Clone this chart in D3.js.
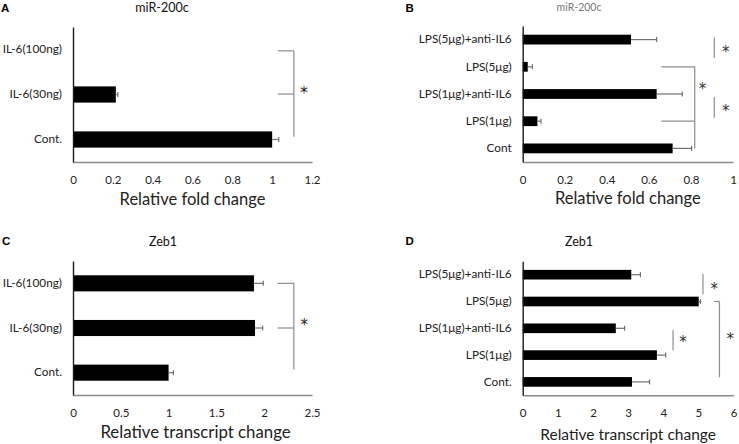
<!DOCTYPE html>
<html>
<head>
<meta charset="utf-8">
<script src="https://cdn.jsdelivr.net/npm/d3@7"></script>
<style>
  html, body { margin: 0; padding: 0; background: #fff; }
  svg { display: block; font-family: Lato, "Open Sans", sans-serif; }
</style>
</head>
<body>
<svg id="chart" width="739" height="444"></svg>
<script>
// ---------- DATA ----------
// Panel A: miR-200c, IL-6 treatment (top to bottom)
const catsA = ["IL-6(100ng)", "IL-6(30ng)", "Cont."];
const valsA = [0, 0.215, 1.0];
const errA  = [0, 0.01, 0.033];
const ticksA = [0, 0.2, 0.4, 0.6, 0.8, 1, 1.2];

// Panel B: miR-200c, LPS treatment
const catsB = ["LPS(5μg)+anti-IL6", "LPS(5μg)", "LPS(1μg)+anti-IL6", "LPS(1μg)", "Cont"];
const valsB = [0.515, 0.024, 0.637, 0.07, 0.713];
const errB  = [0.122, 0.022, 0.122, 0.017, 0.09];
const ticksB = [0, 0.2, 0.4, 0.6, 0.8, 1];

// Panel C: Zeb1, IL-6 treatment
const catsC = ["IL-6(100ng)", "IL-6(30ng)", "Cont."];
const valsC = [1.893, 1.904, 1.0];
const errC  = [0.097, 0.08, 0.05];
const ticksC = [0, 0.5, 1, 1.5, 2, 2.5];

// Panel D: Zeb1, LPS treatment
const catsD = ["LPS(5μg)+anti-IL6", "LPS(5μg)", "LPS(1μg)+anti-IL6", "LPS(1μg)", "Cont."];
const valsD = [3.09, 5.01, 2.65, 3.82, 3.11];
const errD  = [0.26, 0.05, 0.25, 0.25, 0.5];
const ticksD = [0, 1, 2, 3, 4, 5, 6];

// ---------- LAYOUT ----------
const svg = d3.select("#chart");

const panels = [
  { letter: "A", title: "miR-200c", titleColor: "#111", titleSize: 12.5,
    cats: catsA, vals: valsA, errs: errA, ticks: ticksA, domain: [0, 1.2],
    x: [73, 312], y: [27, 162], letterPos: [1, 12], titlePos: [162, 12],
    axisTitle: "Relative fold change", axisTitleSize: 16.5, axisTitleY: 205, catSize: 11.8, tickSize: 11.5,
    brackets: [ { type: "bracket", x1: 1.029, x2: 1.109, yTop: 0.03, yMid: 0.99, yBot: 1.94, starX: 1.16, starY: 0.88, starSize: 15, starColor: "#111" } ] },
  { letter: "B", title: "miR-200c", titleColor: "#777", titleSize: 10.5,
    cats: catsB, vals: valsB, errs: errB, ticks: ticksB, domain: [0, 1],
    x: [522.7, 733], y: [26, 162], letterPos: [405.5, 12], titlePos: [579, 11],
    axisTitle: "Relative fold change", axisTitleSize: 16.5, axisTitleY: 204, catSize: 11.8, tickSize: 11.5,
    brackets: [
      { type: "bracket", x1: 0.66, x2: 0.818, yTop: 1.0, yMid: 3.0, yBot: 4.0, starX: 0.855, starY: 1.68, starColor: "#333" },
      { type: "line", x: 0.911, y1: -0.08, y2: 0.67, starX: 0.965, starY: 0.32, starColor: "#333" },
      { type: "line", x: 0.911, y1: 2.12, y2: 2.87, starX: 0.965, starY: 2.5, starColor: "#333" } ] },
  { letter: "C", title: "Zeb1", titleColor: "#111", titleSize: 12.5,
    cats: catsC, vals: valsC, errs: errC, ticks: ticksC, domain: [0, 2.5],
    x: [73, 312], y: [261, 395], letterPos: [2, 245], titlePos: [163, 246],
    axisTitle: "Relative transcript change", axisTitleSize: 16.8, axisTitleY: 438, catSize: 11.8, tickSize: 11.5,
    brackets: [ { type: "bracket", x1: 2.14, x2: 2.31, yTop: 0.0, yMid: 1.0, yBot: 1.93, starX: 2.42, starY: 0.85, starColor: "#222", starSize: 15 } ] },
  { letter: "D", title: "Zeb1", titleColor: "#111", titleSize: 12.5,
    cats: catsD, vals: valsD, errs: errD, ticks: ticksD, domain: [0, 6],
    x: [522.7, 733.5], y: [261.3, 395.3], letterPos: [405.5, 245], titlePos: [579, 246],
    axisTitle: "Relative transcript change", axisTitleSize: 15.5, axisTitleY: 440, catSize: 11.8, tickSize: 11.5,
    brackets: [
      { type: "line", x: 5.13, y1: -0.03, y2: 0.73, starX: 5.45, starY: 0.38, starColor: "#333" },
      { type: "line", x: 4.28, y1: 2.07, y2: 2.82, starX: 4.56, starY: 2.39, starColor: "#333" },
      { type: "stub", x1: 5.44, x2: 5.6, yTop: 1.0, yBot: 3.83, starX: 5.91, starY: 2.25, starColor: "#333" } ] }
];

const bracketColor = "#8c8c8c";

panels.forEach(p => {
  const g = svg.append("g");
  const x = d3.scaleLinear().domain(p.domain).range(p.x);
  const y = d3.scaleBand().domain(p.cats).range(p.y).paddingInner(0.64).paddingOuter(0.32);
  const step = y.step();
  const yIdx = i => p.y[0] + (i + 0.5) * step; // fractional category position

  // panel letter
  g.append("text").attr("x", p.letterPos[0]).attr("y", p.letterPos[1])
    .style("font-family", "'Liberation Sans', Arial, sans-serif").style("font-weight", "bold")
    .style("font-size", "11.5px").attr("fill", "#000").text(p.letter);
  // title
  g.append("text").attr("x", p.titlePos[0]).attr("y", p.titlePos[1]).attr("text-anchor", "middle")
    .style("font-size", p.titleSize + "px").attr("fill", p.titleColor).text(p.title);

  // bars
  g.selectAll("rect.bar").data(p.cats).join("rect").attr("class", "bar")
    .attr("x", x(0)).attr("y", d => y(d))
    .attr("width", (d, i) => x(p.vals[i]) - x(0)).attr("height", y.bandwidth())
    .attr("fill", "#000");

  // error bars (positive only)
  const eb = g.selectAll("g.err").data(p.cats.filter((d, i) => p.errs[i] > 0)).join("g").attr("class", "err");
  eb.append("line")
    .attr("x1", d => x(p.vals[p.cats.indexOf(d)]))
    .attr("x2", d => { const i = p.cats.indexOf(d); return x(p.vals[i] + p.errs[i]); })
    .attr("y1", d => y(d) + y.bandwidth() / 2).attr("y2", d => y(d) + y.bandwidth() / 2)
    .attr("stroke", "#6e6e6e").attr("stroke-width", 1.2);
  eb.append("line")
    .attr("x1", d => { const i = p.cats.indexOf(d); return x(p.vals[i] + p.errs[i]); })
    .attr("x2", d => { const i = p.cats.indexOf(d); return x(p.vals[i] + p.errs[i]); })
    .attr("y1", d => y(d) + y.bandwidth() / 2 - 2.5).attr("y2", d => y(d) + y.bandwidth() / 2 + 2.5)
    .attr("stroke", "#6e6e6e").attr("stroke-width", 1.2);

  // x axis
  const xAxis = d3.axisBottom(x).tickValues(p.ticks).tickSize(0).tickPadding(0)
    .tickFormat(d3.format("~g"));
  const xa = g.append("g").attr("transform", `translate(0,${p.y[1]})`).call(xAxis)
    .attr("font-family", null).attr("font-size", null);
  xa.select(".domain").attr("stroke", "#8a8a8a").attr("stroke-width", 1.6);
  xa.selectAll("text").attr("y", 18).attr("dy", "0.35em")
    .style("font-size", p.tickSize + "px").attr("fill", "#222");

  // y axis
  const yAxis = d3.axisLeft(y).tickSize(0).tickPadding(11);
  const ya = g.append("g").attr("transform", `translate(${p.x[0]},0)`).call(yAxis)
    .attr("font-family", null).attr("font-size", null);
  ya.select(".domain").attr("stroke", "#1a1a1a").attr("stroke-width", 1.4);
  ya.selectAll("text").style("font-size", p.catSize + "px").attr("fill", "#222");

  // axis title
  g.append("text").attr("x", (p.x[0] + p.x[1]) / 2 - (p.letter === "C" ? -3 : 0))
    .attr("y", p.axisTitleY).attr("text-anchor", "middle")
    .style("font-size", p.axisTitleSize + "px").attr("fill", "#222").text(p.axisTitle);

  // significance annotations
  p.brackets.forEach(b => {
    const sc = b.starColor || "#111";
    const ss = b.starSize || 15;
    if (b.type === "bracket") {
      [b.yTop, b.yMid].forEach(t => {
        g.append("line").attr("x1", x(b.x1)).attr("x2", x(b.x2))
          .attr("y1", yIdx(t)).attr("y2", yIdx(t)).attr("stroke", bracketColor).attr("stroke-width", 1.2);
      });
      g.append("line").attr("x1", x(b.x2)).attr("x2", x(b.x2))
        .attr("y1", yIdx(b.yTop)).attr("y2", yIdx(b.yBot)).attr("stroke", bracketColor).attr("stroke-width", 1.2);
    } else if (b.type === "line") {
      g.append("line").attr("x1", x(b.x)).attr("x2", x(b.x))
        .attr("y1", yIdx(b.y1)).attr("y2", yIdx(b.y2)).attr("stroke", bracketColor).attr("stroke-width", 1.2);
    } else if (b.type === "stub") {
      g.append("line").attr("x1", x(b.x1)).attr("x2", x(b.x2))
        .attr("y1", yIdx(b.yTop)).attr("y2", yIdx(b.yTop)).attr("stroke", bracketColor).attr("stroke-width", 1.2);
      g.append("line").attr("x1", x(b.x2)).attr("x2", x(b.x2))
        .attr("y1", yIdx(b.yTop)).attr("y2", yIdx(b.yBot)).attr("stroke", bracketColor).attr("stroke-width", 1.2);
    }
    g.append("text").attr("x", x(b.starX)).attr("y", yIdx(b.starY)).attr("dy", "0.58em")
      .attr("text-anchor", "middle").style("font-family", "'DejaVu Sans', sans-serif")
      .style("font-size", ss + "px").attr("fill", sc).text("*");
  });
});
</script>
</body>
</html>
